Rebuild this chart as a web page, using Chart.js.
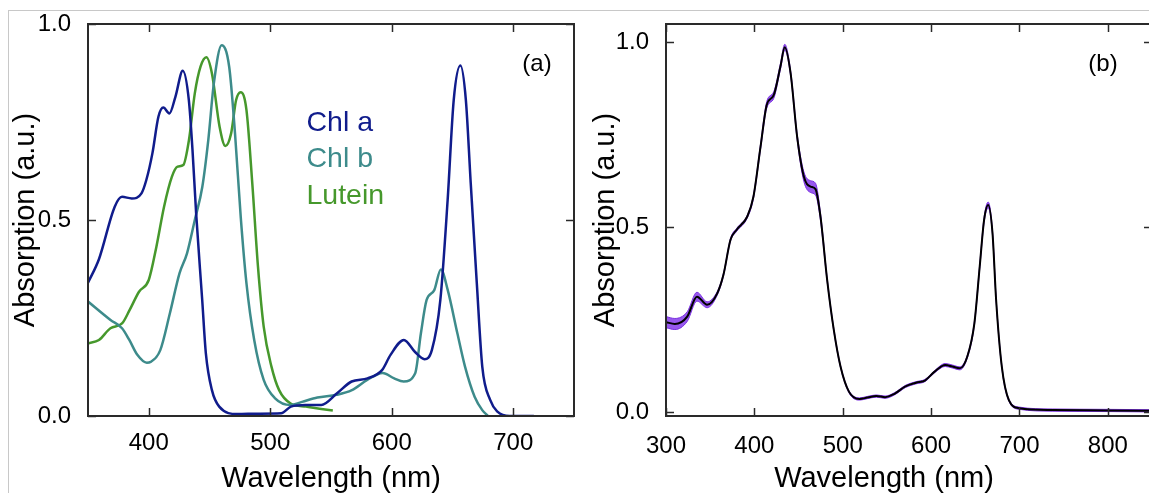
<!DOCTYPE html>
<html><head><meta charset="utf-8">
<script src="https://cdn.jsdelivr.net/npm/chart.js@4.4.1/dist/chart.umd.min.js"></script>
<style>
html,body{margin:0;padding:0;background:#fff;overflow:hidden;width:1149px;height:493px;}
#frame{position:absolute;left:8px;top:10px;width:1300px;height:700px;border-top:1px solid #c8c8c8;border-left:1px solid #c8c8c8;}
#wa{position:absolute;left:0;top:0;width:580px;height:493px;}
#wb{position:absolute;left:580px;top:0;width:580px;height:493px;}
canvas{display:block;}
</style></head><body>
<div id="frame"></div>
<div id="wa"><canvas id="ca" width="580" height="493"></canvas></div>
<div id="wb"><canvas id="cb" width="580" height="493"></canvas></div>
<script>
// ---------- data ----------
const xTitle = 'Wavelength (nm)';
const yTitle = 'Absorption (a.u.)';
const panelLabels = ['(a)', '(b)'];
const seriesNames = ['Chl a', 'Chl b', 'Lutein'];

const xTicksA = [400, 500, 600, 700];
const yTicksA = [0, 0.5, 1.0];
const xTicksB = [300, 400, 500, 600, 700, 800];
const yTicksB = [0, 0.5, 1.0];

const chlaWl = [350,359,372,378,386,394,398,403,408,412,417,422,428,433,436,439,444,447,452,458,473,490,509,517,529,542,555,567,580,592,599,610,619,627,633,640,646,651,656.5,661,665,670,674.5,681,687,697,717];
const chlaAbs = [0.34,0.40,0.534,0.559,0.555,0.568,0.602,0.67,0.764,0.787,0.772,0.815,0.881,0.806,0.679,0.517,0.296,0.16,0.066,0.024,0.005,0.006,0.007,0.024,0.028,0.028,0.058,0.088,0.096,0.117,0.156,0.194,0.164,0.145,0.168,0.296,0.551,0.806,0.894,0.806,0.594,0.339,0.126,0.041,0.011,0.0,0.0];

const chlbWl = [350,368.5,378,384,390.6,398.4,401.6,409.5,417.4,425.3,431.5,437.9,444.1,449,453.6,460,466.2,471,475.7,480.4,486.8,494.6,504,516.8,526.2,538.8,554.6,567.2,579.8,592.5,602,609.8,619.3,624,628.7,635,640.4,646.1,654,660.3,668.2,674.5,679.2];
const chlbAbs = [0.292,0.245,0.224,0.194,0.156,0.136,0.138,0.168,0.262,0.364,0.415,0.5,0.585,0.704,0.849,0.946,0.891,0.721,0.508,0.339,0.194,0.092,0.045,0.028,0.036,0.047,0.054,0.066,0.092,0.11,0.096,0.088,0.109,0.211,0.296,0.321,0.374,0.321,0.211,0.126,0.049,0.015,0.0];

const lutWl = [350,359,368.5,378,384.2,392,400,406.3,412.6,419,423.7,428.4,433.1,437.9,442.6,447.4,452,458.3,463.1,467.8,471.9,475.7,480.4,485.2,489.9,494.6,501,507.3,516.8,529.4,542,551.5];
const lutAbs = [0.185,0.194,0.224,0.236,0.27,0.317,0.347,0.432,0.534,0.61,0.636,0.64,0.704,0.823,0.891,0.915,0.874,0.738,0.689,0.721,0.806,0.826,0.781,0.594,0.381,0.228,0.126,0.066,0.032,0.024,0.018,0.014];

const bWl = [300,310,324,335,346.5,358,365,373,380,392,399,407,414,422,429.5,434.4,441,448.4,456,463.5,469.2,474.8,482.4,489.9,497.5,507,519,528,538,548,558.5,571,583,593,604,616,624,632.5,641,649,655,660,664.6,669.5,673.6,680,688,700,737,800,850];
const bMean = [0.243,0.238,0.258,0.312,0.29,0.321,0.371,0.466,0.493,0.529,0.583,0.718,0.831,0.858,0.935,0.987,0.917,0.745,0.637,0.61,0.603,0.529,0.357,0.222,0.123,0.055,0.035,0.039,0.043,0.04,0.049,0.069,0.079,0.085,0.109,0.127,0.123,0.118,0.15,0.24,0.393,0.52,0.56,0.484,0.303,0.123,0.032,0.01,0.005,0.004,0.003];
const bSpread = [0.015,0.015,0.013,0.012,0.008,0.005,0.004,0.004,0.004,0.004,0.005,0.007,0.009,0.009,0.008,0.008,0.007,0.008,0.013,0.016,0.016,0.01,0.005,0.004,0.003,0.003,0.003,0.003,0.003,0.003,0.003,0.003,0.003,0.003,0.003,0.004,0.004,0.004,0.004,0.005,0.006,0.007,0.008,0.006,0.005,0.004,0.003,0.003,0.003,0.003,0.003];

// ---------- helpers ----------
const FONT = "'Liberation Sans', Arial, sans-serif";
Chart.defaults.font.family = FONT;
const pts = (xs, ys) => xs.map((x, i) => ({x, y: ys[i]}));
const colA = '#101c8c', colB = '#3d8b8b', colL = '#46982c';

const framePlugin = {
  id: 'frameTicks',
  afterDatasetsDraw(chart, args, o) {
    const {ctx, chartArea: a, scales} = chart;
    ctx.save();
    ctx.strokeStyle = '#2a2a2a';
    ctx.lineWidth = 1.5;
    const L = 8;
    const ln = (x1, y1, x2, y2) => { ctx.beginPath(); ctx.moveTo(x1, y1); ctx.lineTo(x2, y2); ctx.stroke(); };
    scales.x.ticks.forEach(t => {
      const p = Math.round(scales.x.getPixelForValue(t.value)) + 0.5;
      ln(p, a.bottom, p, a.bottom - L);
      ln(p, a.top, p, a.top + L);
    });
    scales.y.ticks.forEach(t => {
      const p = Math.round(scales.y.getPixelForValue(t.value)) + 0.5;
      ln(a.left, p, a.left + L, p);
      ln(a.right, p, a.right - L, p);
    });
    ctx.lineWidth = 2;
    ctx.strokeRect(a.left, a.top, a.right - a.left, a.bottom - a.top);
    // panel label
    ctx.fillStyle = '#000';
    ctx.font = '24px ' + FONT;
    ctx.textAlign = 'center';
    ctx.textBaseline = 'alphabetic';
    ctx.fillText(o.label, o.lx, o.ly);
    if (o.legend) {
      ctx.textAlign = 'left';
      ctx.font = '28.5px ' + FONT;
      chart.data.datasets.forEach((d, i) => {
        ctx.fillStyle = d.borderColor;
        ctx.fillText(d.label, o.legX, o.legY + i * o.legDy);
      });
    }
    if (o.xTitle) {
      ctx.fillStyle = '#000';
      ctx.textAlign = 'center';
      ctx.textBaseline = 'middle';
      ctx.font = '29px ' + FONT;
      ctx.fillText(o.xTitle, o.tx, o.ty);
    }
    ctx.restore();
  }
};

const tickFont = {family: FONT, size: 24};
const titleFont = {family: FONT, size: 29, lineHeight: 1};

// ---------- panel (a) ----------
new Chart(document.getElementById('ca'), {
  type: 'line',
  data: {
    datasets: [
      {label: seriesNames[0], data: pts(chlaWl, chlaAbs), borderColor: colA},
      {label: seriesNames[1], data: pts(chlbWl, chlbAbs), borderColor: colB},
      {label: seriesNames[2], data: pts(lutWl, lutAbs), borderColor: colL}
    ].map(d => Object.assign(d, {borderWidth: 2.5, pointRadius: 0, fill: false, cubicInterpolationMode: 'monotone'}))
  },
  options: {
    responsive: false, animation: false, events: [],
    layout: {padding: {top: 24, right: 6, left: 0, bottom: 0}},
    plugins: {legend: {display: false}, tooltip: {enabled: false},
      frameTicks: {label: panelLabels[0], lx: 537, ly: 71, legend: true, legX: 306.5, legY: 130.5, legDy: 36.5}},
    scales: {
      x: {type: 'linear', min: 350, max: 750,
        grid: {display: false}, border: {display: false},
        afterBuildTicks: s => { s.ticks = xTicksA.map(v => ({value: v})); },
        afterFit: s => { s.height = 77; },
        ticks: {padding: 5, color: '#000', font: tickFont, maxRotation: 0, callback: v => String(v)},
        title: {display: true, text: xTitle, color: '#000', font: titleFont, padding: {top: 0, bottom: 0}}},
      y: {type: 'linear', min: 0, max: 1,
        grid: {display: false}, border: {display: false},
        afterBuildTicks: s => { s.ticks = yTicksA.map(v => ({value: v})); },
        afterFit: s => { s.width = 88; },
        ticks: {padding: 9, color: '#000', font: tickFont, callback: v => Number(v).toFixed(1)},
        title: {display: true, text: yTitle, color: '#000', font: titleFont, padding: {top: 11, bottom: 0}}}
    }
  },
  plugins: [framePlugin]
});

// ---------- panel (b) ----------
new Chart(document.getElementById('cb'), {
  type: 'line',
  data: {
    datasets: [
      {label: 'mean', data: pts(bWl, bMean), borderColor: '#000', borderWidth: 2, fill: false},
      {label: 'upper', data: pts(bWl, bMean.map((m, i) => m + bSpread[i])), borderColor: '#7a30e0', borderWidth: 1, fill: false},
      {label: 'lower', data: pts(bWl, bMean.map((m, i) => m - bSpread[i])), borderColor: '#7a30e0', borderWidth: 1, fill: '-1', backgroundColor: 'rgba(140,70,235,0.9)'}
    ].map(d => Object.assign(d, {pointRadius: 0, cubicInterpolationMode: 'monotone'}))
  },
  options: {
    responsive: false, animation: false, events: [],
    layout: {padding: {top: 24, right: 8, left: 0, bottom: 0}},
    plugins: {legend: {display: false}, tooltip: {enabled: false}, filler: {propagate: false},
      frameTicks: {label: panelLabels[1], lx: 523, ly: 71, legend: false, xTitle: xTitle, tx: 304, ty: 479}},
    scales: {
      x: {type: 'linear', min: 300, max: 850,
        grid: {display: false}, border: {display: false},
        afterBuildTicks: s => { s.ticks = xTicksB.map(v => ({value: v})); },
        afterFit: s => { s.height = 77; },
        ticks: {padding: 8, color: '#000', font: tickFont, maxRotation: 0, callback: v => String(v)},
        title: {display: false}},
      y: {type: 'linear', min: -0.011, max: 1.05,
        grid: {display: false}, border: {display: false},
        afterBuildTicks: s => { s.ticks = yTicksB.map(v => ({value: v})); },
        afterFit: s => { s.width = 86; },
        ticks: {padding: 9, color: '#000', font: tickFont, callback: v => Number(v).toFixed(1)},
        title: {display: true, text: yTitle, color: '#000', font: titleFont, padding: {top: 11, bottom: 0}}}
    }
  },
  plugins: [framePlugin]
});
</script>
</body></html>
